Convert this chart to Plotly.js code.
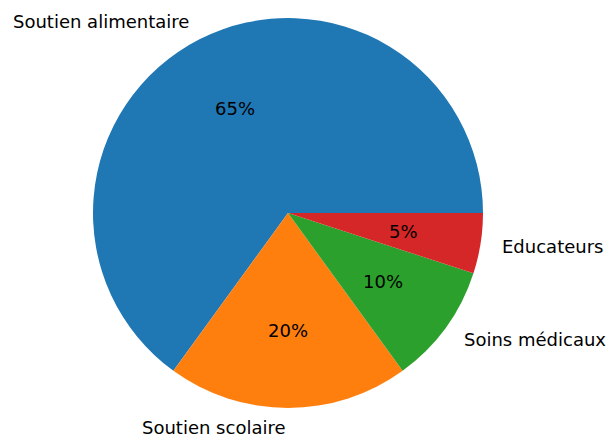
<!DOCTYPE html>
<html>
<head>
<meta charset="utf-8">
<script src="https://cdn.plot.ly/plotly-3.0.1.min.js"></script>
<style>html,body{margin:0;padding:0;background:#fff;}#chart{width:607px;height:434px;}</style>
</head>
<body>
<div id="chart"></div>
<script>
const labels = ["Soutien alimentaire", "Soutien scolaire", "Soins médicaux", "Educateurs"];
const values = [65, 20, 10, 5];
const colors = ["#1f77b4", "#ff7f0e", "#2ca02c", "#d62728"];

const W = 607, H = 434;
const cx = 288, cyTop = 213, R = 195;
const cy = H - cyTop;
const fontFam = "DejaVu Sans, sans-serif";
const fs = 18;

const total = values.reduce((a, b) => a + b, 0);
const annotations = [];
let cum = 0;
values.forEach((v, i) => {
  const mid = (cum + v / 2) / total * 2 * Math.PI;
  cum += v;
  const c = Math.cos(mid), s = Math.sin(mid);
  const lx = cx + 1.1 * R * c, ly = cy + 1.1 * R * s;
  annotations.push({
    x: lx / W, y: ly / H, xref: "paper", yref: "paper",
    text: labels[i], showarrow: false,
    xanchor: c > 0 ? "left" : "right", yanchor: "middle",
    font: {family: fontFam, size: fs, color: "#000"}
  });
  const px = cx + 0.6 * R * c, py = cy + 0.6 * R * s;
  annotations.push({
    x: px / W, y: py / H, xref: "paper", yref: "paper",
    text: Math.round(v / total * 100) + "%", showarrow: false,
    xanchor: "center", yanchor: "middle",
    font: {family: fontFam, size: fs, color: "#000"}
  });
});

// counterclockwise: Plotly ends the first slice at `rotation` (clockwise from 12 o'clock);
// we want it to start at 3 o'clock going counterclockwise.
let rot = 90 - values[0] / total * 360;
if (rot < -180) rot += 360;

const trace = {
  type: "pie",
  labels: labels,
  values: values,
  sort: false,
  direction: "counterclockwise",
  rotation: rot,
  marker: {colors: colors, line: {width: 0}},
  textinfo: "none",
  hoverinfo: "label+percent",
  domain: {x: [(cx - R) / W, (cx + R) / W], y: [(cy - R) / H, (cy + R) / H]}
};

Plotly.newPlot("chart", [trace], {
  width: W, height: H,
  margin: {l: 0, r: 0, t: 0, b: 0},
  showlegend: false,
  paper_bgcolor: "#fff",
  annotations: annotations
}, {displayModeBar: false, staticPlot: true});
</script>
</body>
</html>
